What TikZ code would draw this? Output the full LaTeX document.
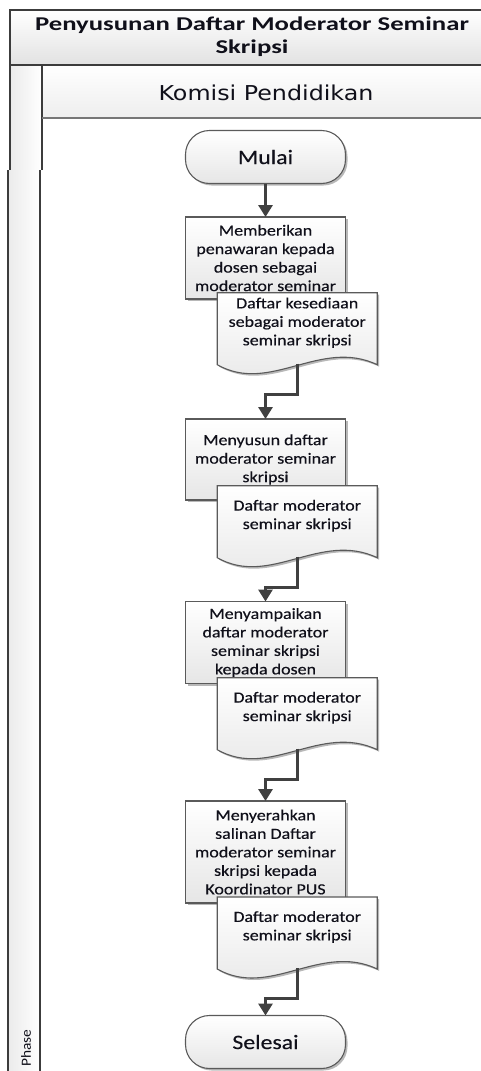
\documentclass[tikz,border=0pt]{standalone}
\usepackage{fontspec}
\setmainfont{Carlito}[FakeStretch=1.16,FakeBold=0.35]
\newfontfamily\titlefont{Carlito}[FakeStretch=1.37]
\newfontfamily\phasefont{Carlito}[FakeStretch=1.1]
\newfontfamily\lanefont{DejaVu Sans}[FakeStretch=1.16]
\usetikzlibrary{arrows.meta,shadows,calc}
\definecolor{framec}{HTML}{3C3C3C}
\definecolor{boxline}{HTML}{5A5A5A}
\definecolor{connc}{HTML}{404040}
\definecolor{txt}{HTML}{10101A}
\definecolor{boxbot}{HTML}{E6E6E6}
\definecolor{bandbot}{HTML}{E2E2E2}
\begin{document}
\begin{tikzpicture}[x=1pt,y=-1pt,
  frameline/.style={draw=framec,line width=2pt},
  shad/.style={drop shadow={shadow xshift=2pt,shadow yshift=-2pt,opacity=0.28,fill=black}},
  boxnode/.style={rectangle,draw=boxline,line width=1.1pt,top color=white,bottom color=boxbot,
     minimum width=160pt,inner sep=0pt,outer sep=0pt,align=center,text=txt,
     font=\fontsize{15.5}{18.5}\selectfont,shad},
  docshape/.style={draw=boxline,line width=1.1pt,top color=white,bottom color=boxbot,shad},
  doctext/.style={rectangle,minimum width=160pt,minimum height=60pt,inner sep=0pt,outer sep=0pt,
     align=center,text=txt,font=\fontsize{15.5}{18.5}\selectfont},
  term/.style={rectangle,rounded corners=24pt,draw=boxline,line width=1.1pt,top color=white,
     bottom color=boxbot,minimum width=160pt,minimum height=53pt,inner sep=0pt,outer sep=0pt,
     text=txt,font=\fontsize{20.5}{24}\selectfont,shad},
  connector/.style={draw=connc,line width=3pt,-{Triangle[width=14pt,length=12pt]}}
]
\useasboundingbox (0,0) rectangle (480,1071);
\fill[white] (0,0) rectangle (480,1071);
% pool frame fills
\shade[top color=white,bottom color=bandbot] (10,10) rectangle (484,65);
\shade[top color=white,bottom color=bandbot!60] (42,65) rectangle (484,118);
\shade[left color=bandbot!70,right color=white] (10,65) rectangle (42,170);
\shade[left color=bandbot!70,right color=white] (8,170) rectangle (40,1075);
% frame lines
\draw[frameline] (484,10) -- (10,10) -- (10,170);
\draw[frameline] (8,170) -- (8,1075);
\draw[frameline] (10,65) -- (484,65);
\draw[frameline] (42,65) -- (42,170);
\draw[frameline] (40,170) -- (40,1075);
\draw[draw=framec!70,line width=1.6pt] (42,118) -- (484,118);
% texts of frame
\node[font=\titlefont\bfseries\fontsize{19.5}{23}\selectfont,align=center,text=txt] (title) at (252,36.7)
  {Penyusunan Daftar Moderator Seminar\\Skripsi};
\node[font=\lanefont\fontsize{20.5}{24}\selectfont,text=txt] (lane) at (266,93.2) {Komisi Pendidikan};
\node[rotate=90,font=\phasefont\fontsize{14}{17}\selectfont,text=txt] (phase) at (26,1048) {Phase};
% flow
\node[term] (mulai) at (265.5,157) {Mulai};
\node[boxnode,minimum height=82pt] (b1) at (265.5,258)
  {Memberikan\\penawaran kepada\\dosen sebagai\\moderator seminar};
\coordinate (d1top) at (297.2,292.7);
\draw[docshape] ($(d1top)+(-80,0)$) -- ++(160,0) -- ++(0,72)
  .. controls +(-57,-27) and +(53,30) .. ($(d1top)+(-80,72)$) -- cycle;
\node[doctext,anchor=north] (d1) at (d1top)
  {Daftar kesediaan\\sebagai moderator\\seminar skripsi};

\node[boxnode,minimum height=81pt] (b2) at (265.5,459.5)
  {Menyusun daftar\\moderator seminar\\skripsi};
\coordinate (d2top) at (297.2,485.7);
\draw[docshape] ($(d2top)+(-80,0)$) -- ++(160,0) -- ++(0,72)
  .. controls +(-57,-27) and +(53,30) .. ($(d2top)+(-80,72)$) -- cycle;
\node[doctext,anchor=north] (d2) at (d2top)
  {Daftar moderator\\seminar skripsi};

\node[boxnode,minimum height=82pt] (b3) at (265.5,642.5)
  {Menyampaikan\\daftar moderator\\seminar skripsi\\kepada dosen};
\coordinate (d3top) at (297.2,677.7);
\draw[docshape] ($(d3top)+(-80,0)$) -- ++(160,0) -- ++(0,72)
  .. controls +(-57,-27) and +(53,30) .. ($(d3top)+(-80,72)$) -- cycle;
\node[doctext,anchor=north] (d3) at (d3top)
  {Daftar moderator\\seminar skripsi};

\node[boxnode,minimum height=102pt] (b4) at (265.5,852)
  {Menyerahkan\\salinan Daftar\\moderator seminar\\skripsi kepada\\Koordinator PUS};
\coordinate (d4top) at (297.2,897);
\draw[docshape] ($(d4top)+(-80,0)$) -- ++(160,0) -- ++(0,72)
  .. controls +(-57,-27) and +(53,30) .. ($(d4top)+(-80,72)$) -- cycle;
\node[doctext,anchor=north] (d4) at (d4top)
  {Daftar moderator\\seminar skripsi};

\node[term] (selesai) at (265.5,1042) {Selesai};
% connectors
\draw[connector] (mulai.south) -- (b1.north);
\draw[connector] ($(d1top)+(0,71)$) -- ($(d1top)+(0,102)$) -| (b2.north);
\draw[connector] ($(d2top)+(0,71)$) -- ($(d2top)+(0,102)$) -| (b3.north);
\draw[connector] ($(d3top)+(0,71)$) -- ($(d3top)+(0,102)$) -| (b4.north);
\draw[connector] ($(d4top)+(0,71)$) -- ($(d4top)+(0,101)$) -| (selesai.north);
\end{tikzpicture}
\end{document}
